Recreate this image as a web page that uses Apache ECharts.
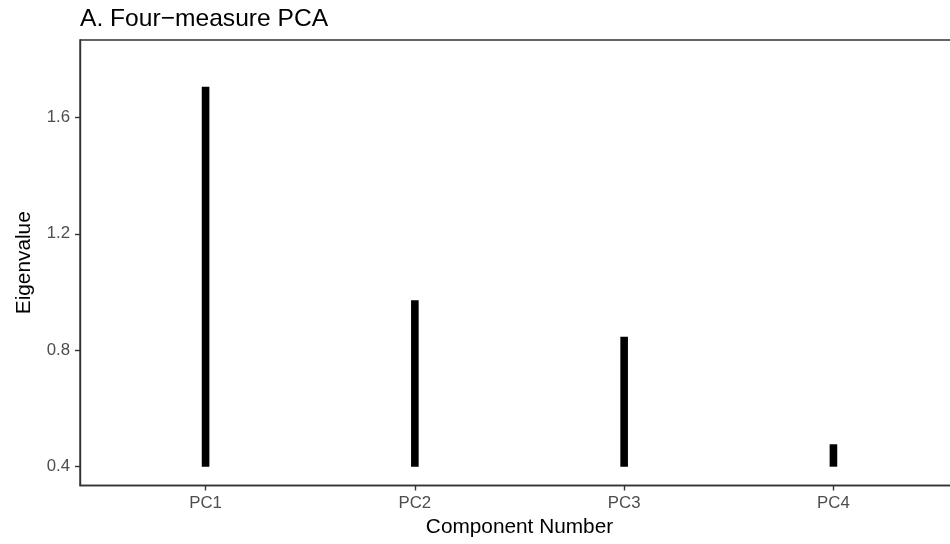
<!DOCTYPE html>
<html>
<head>
<meta charset="utf-8">
<script src="https://cdn.jsdelivr.net/npm/echarts@6/dist/echarts.min.js"></script>
<style>
  html, body { margin: 0; padding: 0; background: #ffffff; }
  #chart { width: 950px; height: 544px; }
</style>
</head>
<body>
<div id="chart"></div>
<script>
// Scree values for the four principal components
const components = ['PC1', 'PC2', 'PC3', 'PC4'];
const eigenvalues = [1.705, 0.972, 0.846, 0.477];
const baseline = 0.4;
const yTicks = [0.4, 0.8, 1.2, 1.6];

const FONT = '"Liberation Sans", Arial, Helvetica, sans-serif';

const chart = echarts.init(document.getElementById('chart'), null, { renderer: 'canvas' });

const option = {
  backgroundColor: '#ffffff',
  animation: false,
  title: {
    text: 'A. Four\u2212measure PCA',
    left: 75,
    top: 2,
    textStyle: { fontFamily: FONT, fontSize: 24.6, fontWeight: 'normal', color: '#000000' }
  },
  grid: {
    left: 80,
    top: 40,
    width: 879,
    height: 445.5,
    outerBoundsMode: 'none',
    containLabel: false,
    show: true,
    borderColor: '#333333',
    borderWidth: 1.4,
    backgroundColor: 'transparent'
  },
  xAxis: {
    type: 'value',
    min: 0.4,
    max: 4.6,
    name: 'Component Number',
    nameLocation: 'middle',
    nameGap: 31,
    nameTextStyle: { fontFamily: FONT, fontSize: 20.8, color: '#000000' },
    splitLine: { show: false },
    axisLine: { show: true, lineStyle: { color: '#333333', width: 1.4 } },
    axisTick: {
      show: true, length: 5, inside: false,
      customValues: components.map((_, i) => i + 1),
      lineStyle: { color: '#333333', width: 1.4 }
    },
    axisLabel: {
      customValues: components.map((_, i) => i + 1),
      margin: 9,
      fontFamily: FONT, fontSize: 16.8, color: '#4D4D4D',
      formatter: v => components[Math.round(v) - 1] || ''
    }
  },
  yAxis: {
    type: 'value',
    min: 0.3354,
    max: 1.8655,
    name: 'Eigenvalue',
    nameLocation: 'middle',
    nameGap: 45,
    nameRotate: 90,
    nameTextStyle: { fontFamily: FONT, fontSize: 20.8, color: '#000000' },
    splitLine: { show: false },
    axisLine: { show: true, lineStyle: { color: '#333333', width: 1.4 } },
    axisTick: {
      show: true, length: 5,
      customValues: yTicks,
      lineStyle: { color: '#333333', width: 1.4 }
    },
    axisLabel: {
      customValues: yTicks,
      margin: 10,
      fontFamily: FONT, fontSize: 16.8, color: '#4D4D4D',
      formatter: v => v.toFixed(1)
    }
  },
  series: [{
    type: 'custom',
    // each component drawn as a vertical range from the baseline to its eigenvalue
    data: eigenvalues.map((v, i) => [i + 1, v]),
    encode: { x: 0, y: 1 },
    renderItem: function (params, api) {
      const x = api.value(0);
      const top = api.coord([x, api.value(1)]);
      const bottom = api.coord([x, baseline]);
      const w = 7.6;
      return {
        type: 'rect',
        shape: { x: top[0] - w / 2, y: top[1], width: w, height: bottom[1] - top[1] },
        style: { fill: '#000000' }
      };
    }
  }]
};

chart.setOption(option);
</script>
</body>
</html>
